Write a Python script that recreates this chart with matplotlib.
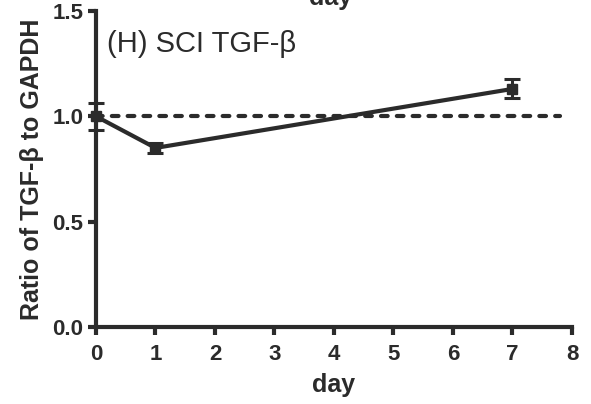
import matplotlib.pyplot as plt

days = [0, 1, 7]
ratio = [1.0, 0.85, 1.13]
err = [0.065, 0.025, 0.045]
ref_level = 1.0

ink = '#2b2b2b'
plt.rcParams['font.family'] = ['Liberation Sans', 'DejaVu Sans']

fig = plt.figure(figsize=(5.91, 4.04), dpi=100)
ax = fig.add_axes([0.1624, 0.1906, 0.8054, 0.7822])

ax.plot([0, 7.8], [ref_level, ref_level], color=ink, lw=3, linestyle=(0, (1.6, 2.2)),
        dash_capstyle='round', zorder=1)
ax.errorbar(days, ratio, yerr=err, color=ink, lw=3, marker='s', ms=7,
            capsize=5.5, capthick=2.2, elinewidth=2.2, clip_on=False, zorder=3)

ax.set_xlim(0, 8)
ax.set_ylim(0, 1.5)
ax.set_xticks(range(0, 9))
ax.set_yticks([0.0, 0.5, 1.0, 1.5])
ax.set_yticklabels(['0.0', '0.5', '1.0', '1.5'])
for s in ['top', 'right']:
    ax.spines[s].set_visible(False)
for s in ['left', 'bottom']:
    ax.spines[s].set_linewidth(3)
    ax.spines[s].set_color(ink)
ax.tick_params(width=3, length=6, color=ink, labelsize=16, labelcolor=ink, pad=3)
ax.tick_params(axis='x', pad=6)
for lab in ax.get_xticklabels() + ax.get_yticklabels():
    lab.set_fontweight('bold')

ax.set_xlabel('day', fontsize=18, fontweight='bold', color=ink, labelpad=6)
ax.set_ylabel('Ratio of TGF-β to GAPDH', fontsize=18, fontweight='bold', color=ink, labelpad=6)
ax.text(0.18, 1.305, '(H) SCI TGF-β', fontsize=21, color=ink)

fig.text(0.56, 1.005, 'day', fontsize=18, fontweight='bold', color=ink, ha='center', va='center')

fig.savefig('out.png', dpi=100)
